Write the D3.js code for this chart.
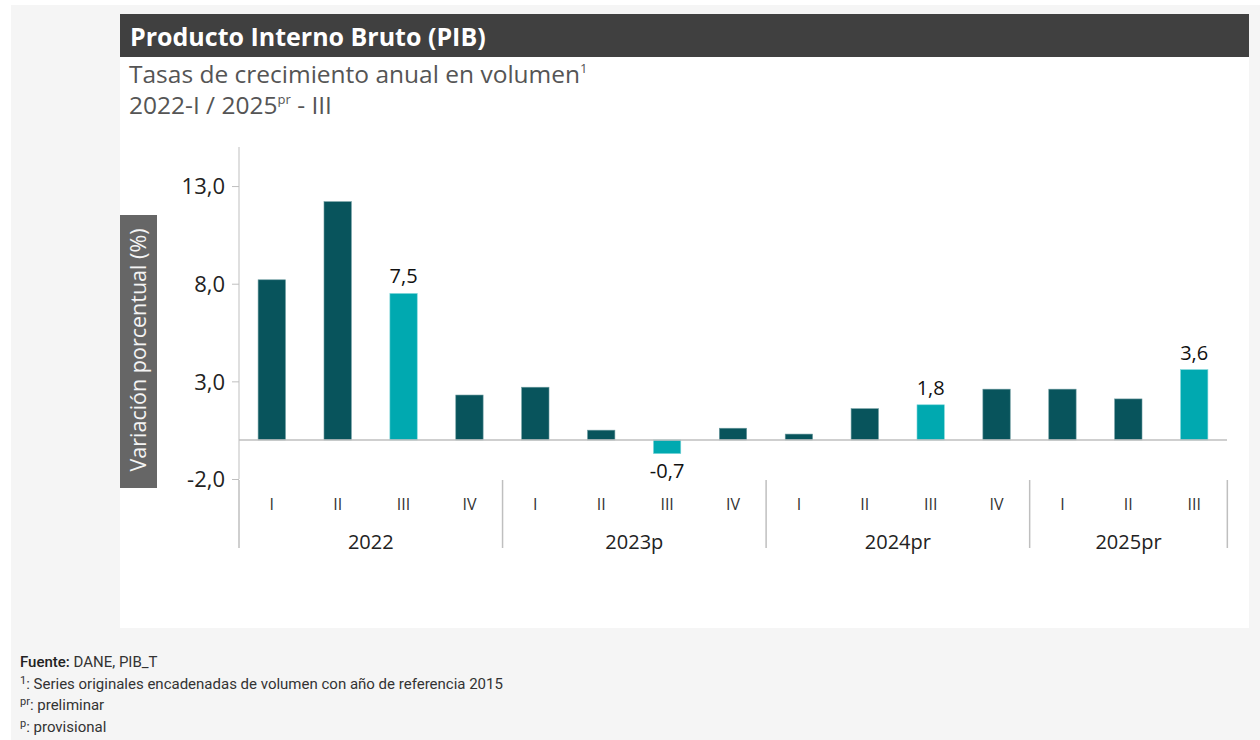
<!DOCTYPE html>
<html>
<head>
<meta charset="utf-8">
<script src="https://cdn.jsdelivr.net/npm/d3@7"></script>
<style>
  html, body { margin: 0; padding: 0; background: #fff; }
  #wrap { position: absolute; left: 11px; top: 5px; width: 1249px; height: 735px; background: #f5f5f5; }
  .notes { position: absolute; left: 20px; top: 652px; font-family: Roboto, sans-serif; font-size: 15px; color: #333; line-height: 21.6px; }
  .notes b { font-weight: 500; color: #222; }
  .notes sup { font-size: 11px; vertical-align: 5px; line-height: 0; }
</style>
</head>
<body>
<div id="wrap"></div>
<svg id="chart" width="1260" height="740" style="position:absolute;left:0;top:0"></svg>
<div class="notes">
  <div><b>Fuente:</b> DANE, PIB_T</div>
  <div><sup>1</sup>: Series originales encadenadas de volumen con año de referencia 2015</div>
  <div><sup>pr</sup>: preliminar</div>
  <div><sup>p</sup>: provisional</div>
</div>
<script>
var years = ["2022", "2023p", "2024pr", "2025pr"];
var quarters = [["I","II","III","IV"], ["I","II","III","IV"], ["I","II","III","IV"], ["I","II","III"]];
var values = [8.2, 12.2, 7.5, 2.3, 2.7, 0.5, -0.7, 0.6, 0.3, 1.6, 1.8, 2.6, 2.6, 2.1, 3.6];
var highlighted = [2, 6, 10, 14];
var yTicks = [-2, 3, 8, 13];

var svg = d3.select("#chart");
var fmt = function(v) { return d3.format(".1f")(v).replace(".", ",").replace("\u2212", "-"); };

// card + title bar
svg.append("rect").attr("x", 120).attr("y", 14).attr("width", 1129).attr("height", 614).attr("fill", "#fff");
svg.append("rect").attr("x", 120).attr("y", 14).attr("width", 1129).attr("height", 43).attr("fill", "#404040");
svg.append("text").attr("x", 130).attr("y", 46)
  .attr("font-family", "Open Sans").attr("font-weight", 700).attr("font-size", 25)
  .attr("fill", "#fff").text("Producto Interno Bruto (PIB)");

var sub1 = svg.append("text").attr("x", 129).attr("y", 83)
  .attr("font-family", "Open Sans").attr("font-size", 24.5).attr("fill", "#555");
sub1.append("tspan").text("Tasas de crecimiento anual en volumen");
sub1.append("tspan").attr("font-size", 13).attr("dy", -10).text("1");
var sub2 = svg.append("text").attr("x", 129).attr("y", 114)
  .attr("font-family", "Open Sans").attr("font-size", 24.5).attr("fill", "#555");
sub2.append("tspan").text("2022-I / 2025");
sub2.append("tspan").attr("font-size", 13).attr("dy", -10).text("pr");
sub2.append("tspan").attr("dy", 10).text(" - III");

// categories
var cats = [];
years.forEach(function(y, i) {
  quarters[i].forEach(function(q) { cats.push(y + "-" + q); });
});

var x = d3.scaleBand().domain(cats).range([239, 1227]).paddingInner(0.585).paddingOuter(0.29);
var y = d3.scaleLinear().domain([-2, 15]).range([479, 147]);

// y axis
var yAxis = d3.axisLeft(y).tickValues(yTicks).tickFormat(fmt).tickSize(7).tickSizeOuter(0);
var gy = svg.append("g").attr("transform", "translate(239,0)").call(yAxis);
gy.select(".domain").attr("stroke", "#bfbfbf").attr("d", "M0," + y(15) + "V" + y(-2));
gy.selectAll(".tick line").attr("stroke", "#bfbfbf");
gy.selectAll(".tick text").attr("font-family", "Open Sans").attr("font-size", 22)
  .attr("fill", "#222").attr("x", -14).attr("dy", "0.35em");

// y title box
svg.append("rect").attr("x", 120).attr("y", 215).attr("width", 37).attr("height", 273).attr("fill", "#666");
svg.append("text").attr("transform", "translate(146,350) rotate(-90)")
  .attr("text-anchor", "middle").attr("font-family", "Open Sans").attr("font-size", 21.5)
  .attr("fill", "#f4f4f4").text("Variación porcentual (%)");

// bars
svg.selectAll("rect.bar").data(values).enter().append("rect").attr("class", "bar")
  .attr("x", function(d, i) { return x(cats[i]); })
  .attr("width", x.bandwidth())
  .attr("y", function(d) { return y(Math.max(0, d)); })
  .attr("height", function(d) { return Math.abs(y(d) - y(0)); })
  .attr("fill", function(d, i) { return highlighted.indexOf(i) >= 0 ? "#00a9b0" : "#08545c"; })
  .attr("stroke", function(d, i) { return highlighted.indexOf(i) >= 0 ? "#7fd6da" : "#6b9a9e"; })
  .attr("stroke-width", 0.6);

// zero line
svg.append("line").attr("x1", 239).attr("x2", 1227).attr("y1", y(0)).attr("y2", y(0))
  .attr("stroke", "#bfbfbf").attr("stroke-width", 1.5);

// data labels
svg.selectAll("text.lab").data(highlighted).enter().append("text").attr("class", "lab")
  .attr("x", function(i) { return x(cats[i]) + x.bandwidth() / 2; })
  .attr("y", function(i) { return values[i] >= 0 ? y(values[i]) - 10 : y(values[i]) + 24; })
  .attr("text-anchor", "middle").attr("font-family", "Open Sans").attr("font-size", 20)
  .attr("fill", "#111").text(function(i) { return fmt(values[i]); });

// quarter labels
svg.selectAll("text.q").data(cats).enter().append("text").attr("class", "q")
  .attr("x", function(c) { return x(c) + x.bandwidth() / 2; })
  .attr("y", 510).attr("text-anchor", "middle").attr("font-family", "Open Sans")
  .attr("font-size", 16).attr("fill", "#333")
  .text(function(c) { return c.split("-")[1]; });

// year groups
var step = x.step();
var start = 0;
var bounds = [];
years.forEach(function(yr, i) {
  var n = quarters[i].length;
  var x0 = 239 + start * step, x1 = 239 + (start + n) * step;
  bounds.push(x0);
  svg.append("text").attr("x", (x0 + x1) / 2).attr("y", 549).attr("text-anchor", "middle")
    .attr("font-family", "Open Sans").attr("font-size", 20).attr("fill", "#222").text(yr);
  start += n;
});
bounds.push(239 + start * step);
svg.selectAll("line.sep").data(bounds).enter().append("line").attr("class", "sep")
  .attr("x1", function(d) { return d; }).attr("x2", function(d) { return d; })
  .attr("y1", 480).attr("y2", 548).attr("stroke", "#bfbfbf").attr("stroke-width", 1.5);
</script>
</body>
</html>
